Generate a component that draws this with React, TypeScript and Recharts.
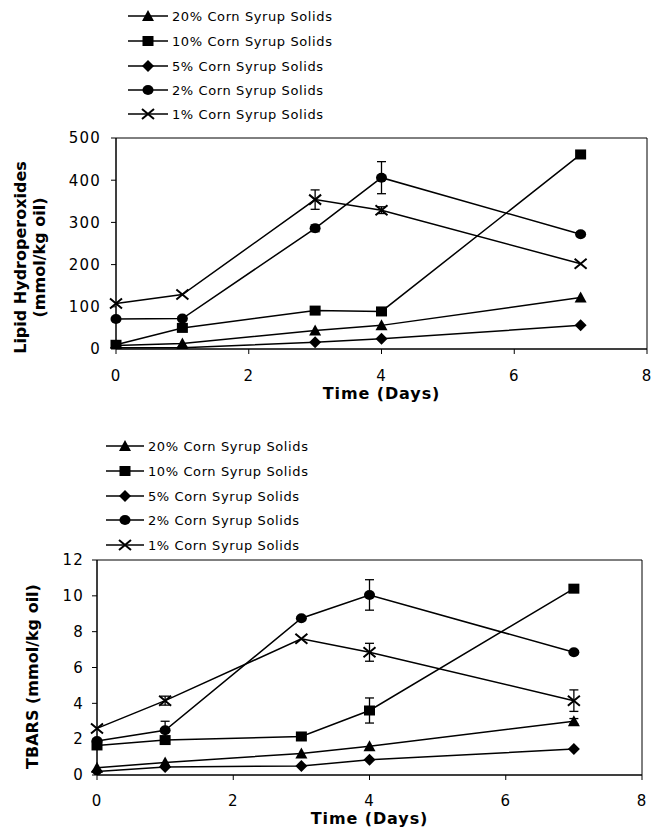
import React from 'react';
import { LineChart, Line, XAxis, YAxis, ErrorBar, Legend, ReferenceArea, Label } from 'recharts';

// ---------- data ----------
const days = [0, 1, 3, 4, 7];
const seriesNames = [
  '20% Corn Syrup Solids',
  '10% Corn Syrup Solids',
  '5% Corn Syrup Solids',
  '2% Corn Syrup Solids',
  '1% Corn Syrup Solids',
];
const markerKinds = ['triangle', 'square', 'diamond', 'circle', 'cross'];

// Lipid hydroperoxides (mmol/kg oil)
const lhp20 = [8, 13, 44, 56, 122];
const lhp10 = [10, 50, 91, 89, 461];
const lhp5 = [3, 3, 16, 24, 56];
const lhp2 = [71, 72, 286, 406, 272];
const lhp1 = [108, 129, 354, 329, 202];
const lhpErr20 = [0, 0, 0, 0, 0];
const lhpErr10 = [0, 0, 0, 0, 0];
const lhpErr5 = [0, 0, 0, 0, 0];
const lhpErr2 = [0, 0, 8, 38, 5];
const lhpErr1 = [0, 0, 23, 8, 0];
const lhpTicks = [0, 100, 200, 300, 400, 500];

// TBARS (mmol/kg oil)
const tb20 = [0.4, 0.7, 1.2, 1.6, 3.0];
const tb10 = [1.65, 1.95, 2.15, 3.6, 10.4];
const tb5 = [0.2, 0.45, 0.5, 0.85, 1.45];
const tb2 = [1.9, 2.5, 8.75, 10.05, 6.85];
const tb1 = [2.6, 4.15, 7.6, 6.85, 4.15];
const tbErr20 = [0, 0, 0, 0, 0.15];
const tbErr10 = [0, 0, 0, 0.7, 0];
const tbErr5 = [0, 0, 0, 0, 0];
const tbErr2 = [0, 0.5, 0, 0.85, 0];
const tbErr1 = [0, 0.25, 0, 0.5, 0.6];
const tbTicks = [0, 2, 4, 6, 8, 10, 12];

const xTicks = [0, 2, 4, 6, 8];

const FONT = '"DejaVu Sans", Verdana, sans-serif';

function buildRows(values: number[][], errors: number[][]) {
  return days.map((d, i) => {
    const row: any = { day: d };
    values.forEach((s, k) => {
      row['s' + k] = s[i];
      row['e' + k] = errors[k][i];
    });
    return row;
  });
}

function Marker({ kind, cx, cy }: { kind: string; cx: number; cy: number }) {
  if (cx == null || cy == null) return null;
  switch (kind) {
    case 'triangle':
      return <polygon points={`${cx},${cy - 6} ${cx + 6},${cy + 5} ${cx - 6},${cy + 5}`} fill="#000" />;
    case 'square':
      return <rect x={cx - 5.5} y={cy - 5} width={11} height={10} fill="#000" />;
    case 'diamond':
      return <polygon points={`${cx},${cy - 6} ${cx + 6},${cy} ${cx},${cy + 6} ${cx - 6},${cy}`} fill="#000" />;
    case 'circle':
      return <ellipse cx={cx} cy={cy} rx={5.5} ry={5} fill="#000" />;
    default:
      return (
        <path
          d={`M${cx - 6},${cy - 5}L${cx + 6},${cy + 5}M${cx - 6},${cy + 5}L${cx + 6},${cy - 5}`}
          stroke="#000"
          strokeWidth={2}
          fill="none"
        />
      );
  }
}

type PanelProps = {
  values: number[][];
  errors: number[][];
  yMax: number;
  yTicks: number[];
  height: number;
  margin: { top: number; right: number; bottom: number; left: number };
  yAxisWidth: number;
  xAxisHeight: number;
  yTickMargin: number;
  xTickMargin: number;
  yLabelLines: string[];
  yLabelX: number[];
  yLabelShift: number;
  xLabelDy: number;
  legendRows: number[];
  legendX1: number;
  legendX2: number;
  legendTextX: number;
  legendStroke: number;
};

function Panel(p: PanelProps) {
  const rows = buildRows(p.values, p.errors);
  const tickStyle = { fontSize: 15, fill: '#000', fontFamily: FONT, letterSpacing: 1.2 } as any;

  const renderLegend = () => (
    <svg width={655} height={p.legendRows[p.legendRows.length - 1] + 14} style={{ display: 'block' }}>
      {seriesNames.map((name, k) => {
        const y = p.legendRows[k];
        const mx = (p.legendX1 + p.legendX2) / 2;
        return (
          <g key={name}>
            <line x1={p.legendX1} x2={p.legendX2} y1={y} y2={y} stroke="#000" strokeWidth={p.legendStroke} />
            <Marker kind={markerKinds[k]} cx={mx} cy={y} />
            <text x={p.legendTextX} y={y} dy="0.36em" fontSize={13} fontFamily={FONT} letterSpacing={0.6} fill="#000">
              {name}
            </text>
          </g>
        );
      })}
    </svg>
  );

  const renderYLabel = (props: any) => {
    const vb = props.viewBox || {};
    const cy = (vb.y || 0) + (vb.height || 0) / 2 + p.yLabelShift;
    return (
      <g>
        {p.yLabelLines.map((t, i) => {
          const x = (vb.x || 0) + p.yLabelX[i];
          return (
            <text
              key={t}
              x={x}
              y={cy}
              transform={`rotate(-90, ${x}, ${cy})`}
              textAnchor="middle"
              fontSize={16}
              fontWeight="bold"
              fontFamily={FONT}
              fill="#000"
            >
              {t}
            </text>
          );
        })}
      </g>
    );
  };

  const renderXLabel = (props: any) => {
    const vb = props.viewBox || {};
    const x = (vb.x || 0) + (vb.width || 0) / 2;
    const y = (vb.y || 0) + p.xLabelDy;
    return (
      <text x={x} y={y} textAnchor="middle" fontSize={16} fontWeight="bold" fontFamily={FONT} letterSpacing={0.9} fill="#000">
        Time (Days)
      </text>
    );
  };

  return (
    <LineChart width={655} height={p.height} data={rows} margin={p.margin}>
      <ReferenceArea x1={0} x2={8} y1={0} y2={p.yMax} fill="none" stroke="#000" strokeWidth={1} ifOverflow="visible" />
      <XAxis
        dataKey="day"
        type="number"
        domain={[0, 8]}
        ticks={xTicks}
        height={p.xAxisHeight}
        stroke="#000"
        tickSize={5}
        tickMargin={p.xTickMargin}
        tick={tickStyle}
        tickLine={{ stroke: '#000' }}
        axisLine={{ stroke: '#000' }}
      >
        <Label content={renderXLabel} />
      </XAxis>
      <YAxis
        type="number"
        domain={[0, p.yMax]}
        ticks={p.yTicks}
        width={p.yAxisWidth}
        stroke="#000"
        tickSize={5}
        tickMargin={p.yTickMargin}
        tick={tickStyle}
        tickLine={{ stroke: '#000' }}
        axisLine={{ stroke: '#000' }}
        allowDataOverflow
      >
        <Label content={renderYLabel} />
      </YAxis>
      <Legend
        layout="vertical"
        align="center"
        verticalAlign="middle"
        wrapperStyle={{ top: 0, left: 0, width: 655 }}
        content={renderLegend}
      />
      {seriesNames.map((name, k) => (
        <Line
          key={name}
          name={name}
          dataKey={'s' + k}
          stroke="#000"
          strokeWidth={1.5}
          isAnimationActive={false}
          dot={(dp: any) => <Marker key={`${k}-${dp.index}`} kind={markerKinds[k]} cx={dp.cx} cy={dp.cy} />}
          activeDot={false}
        >
          <ErrorBar dataKey={'e' + k} width={4.5} stroke="#000" strokeWidth={1.3} direction="y" />
        </Line>
      ))}
    </LineChart>
  );
}

export default function App() {
  return (
    <div style={{ position: 'absolute', top: 0, left: 0, width: 655, height: 834, background: '#fff' }}>
      <div style={{ position: 'absolute', top: 0, left: 0 }}>
        <Panel
          values={[lhp20, lhp10, lhp5, lhp2, lhp1]}
          errors={[lhpErr20, lhpErr10, lhpErr5, lhpErr2, lhpErr1]}
          yMax={500}
          yTicks={lhpTicks}
          height={420}
          margin={{ top: 138, right: 8, bottom: 11, left: 0 }}
          yAxisWidth={116}
          xAxisHeight={60}
          yTickMargin={10}
          xTickMargin={16}
          yLabelLines={['Lipid Hydroperoxides', '(mmol/kg oil)']}
          yLabelX={[26, 45]}
          yLabelShift={14}
          xLabelDy={50}
          legendRows={[16, 41, 66, 90, 114]}
          legendX1={128}
          legendX2={168}
          legendTextX={172}
          legendStroke={1.6}
        />
      </div>
      <div style={{ position: 'absolute', top: 420, left: 0 }}>
        <Panel
          values={[tb20, tb10, tb5, tb2, tb1]}
          errors={[tbErr20, tbErr10, tbErr5, tbErr2, tbErr1]}
          yMax={12}
          yTicks={tbTicks}
          height={414}
          margin={{ top: 140, right: 13, bottom: 9, left: 0 }}
          yAxisWidth={97}
          xAxisHeight={50}
          yTickMargin={8}
          xTickMargin={15}
          yLabelLines={['TBARS (mmol/kg oil)']}
          yLabelX={[38]}
          yLabelShift={9}
          xLabelDy={49}
          legendRows={[26, 51, 76, 100, 125]}
          legendX1={106}
          legendX2={144}
          legendTextX={148}
          legendStroke={1.3}
        />
      </div>
    </div>
  );
}
